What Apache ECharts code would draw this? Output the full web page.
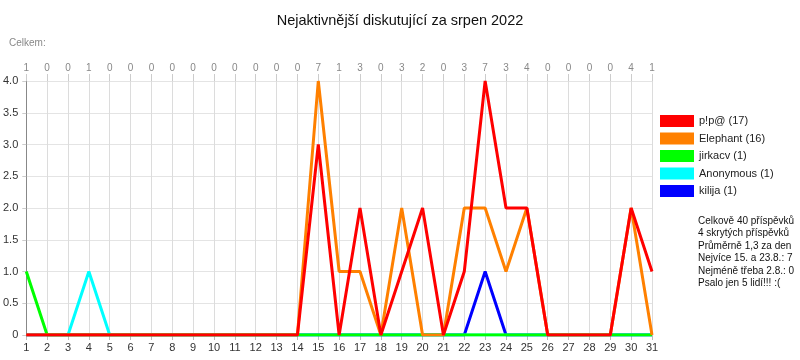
<!DOCTYPE html>
<html>
<head>
<meta charset="utf-8">
<script src="https://cdn.jsdelivr.net/npm/echarts@6/dist/echarts.min.js"></script>
<style>html,body{margin:0;padding:0;background:#fff}#c{width:800px;height:360px}</style>
</head>
<body>
<div id="c"></div>
<script>
const days = ['1','2','3','4','5','6','7','8','9','10','11','12','13','14','15','16','17','18','19','20','21','22','23','24','25','26','27','28','29','30','31'];
const totals = [1,0,0,1,0,0,0,0,0,0,0,0,0,0,7,1,3,0,3,2,0,3,7,3,4,0,0,0,0,4,1];
const names = ['p!p@ (17)','Elephant (16)','jirkacv (1)','Anonymous (1)','kilija (1)'];
const colors = ['#ff0000','#ff8000','#00ff00','#00ffff','#0000ff'];
const plp = [0,0,0,0,0,0,0,0,0,0,0,0,0,0,3,0,2,0,1,2,0,1,4,2,2,0,0,0,0,2,1];
const elephant = [0,0,0,0,0,0,0,0,0,0,0,0,0,0,4,1,1,0,2,0,0,2,2,1,2,0,0,0,0,2,0];
const jirkacv = [1,0,0,0,0,0,0,0,0,0,0,0,0,0,0,0,0,0,0,0,0,0,0,0,0,0,0,0,0,0,0];
const anonymous = [0,0,0,1,0,0,0,0,0,0,0,0,0,0,0,0,0,0,0,0,0,0,0,0,0,0,0,0,0,0,0];
const kilija = [0,0,0,0,0,0,0,0,0,0,0,0,0,0,0,0,0,0,0,0,0,0,1,0,0,0,0,0,0,0,0];
const seriesData = [plp, elephant, jirkacv, anonymous, kilija];
const statsLines = ['Celkově 40 příspěvků','4 skrytých příspěvků','Průměrně 1,3 za den','Nejvíce 15. a 23.8.: 7','Nejméně třeba 2.8.: 0','Psalo jen 5 lidí!!! :('];

const font = 'Liberation Sans, Arial, sans-serif';
const chart = echarts.init(document.getElementById('c'), null, {renderer:'canvas'});
const series = [];
for (let i = seriesData.length - 1; i >= 0; i--) {
  series.push({
    name: names[i], type: 'line', data: seriesData[i], xAxisIndex: 0, yAxisIndex: 0,
    symbol: 'none', lineStyle: {width: 3, color: colors[i]}, itemStyle: {color: colors[i]},
    emphasis: {disabled: true}
  });
}
chart.setOption({
  animation: false,
  textStyle: {fontFamily: font},
  title: {text: 'Nejaktivnější diskutující za srpen 2022', left: 'center', top: 8,
    textStyle: {fontSize: 14.5, fontWeight: 'normal', color: '#111', fontFamily: font}},
  grid: {left: 26, right: 148, top: 81, bottom: 25},
  legend: {
    data: names, orient: 'vertical', left: 660, top: 115, padding: 0, itemWidth: 34, itemHeight: 12,
    itemGap: 5.5, icon: 'rect', selectedMode: false,
    textStyle: {fontSize: 11, color: '#222', fontFamily: font}
  },
  xAxis: [{
    type: 'category', data: days, boundaryGap: false, position: 'bottom',
    axisLine: {show: true, lineStyle: {color: '#999'}},
    axisTick: {show: true, length: 5, lineStyle: {color: '#bbb'}},
    axisLabel: {fontSize: 11, color: '#333', margin: 7, interval: 0},
    splitLine: {show: true, lineStyle: {color: '#dcdcdc'}}
  }, {
    type: 'category', data: days, boundaryGap: false, position: 'top',
    axisLine: {show: false},
    axisTick: {show: true, length: 7, lineStyle: {color: '#ccc'}},
    axisLabel: {fontSize: 10, color: '#888', margin: 8, interval: 0,
      formatter: (v, i) => String(totals[i])},
    splitLine: {show: false}
  }],
  yAxis: {
    type: 'value', min: 0, max: 4, interval: 0.5,
    axisLine: {show: true, lineStyle: {color: '#888'}},
    axisTick: {show: true, length: 4, lineStyle: {color: '#ccc'}},
    axisLabel: {fontSize: 11, color: '#333', margin: 8,
      formatter: v => v === 0 ? '0' : v.toFixed(1)},
    splitLine: {show: true, lineStyle: {color: '#e4e4e4'}}
  },
  graphic: [{
    type: 'text', left: 9, top: 38,
    style: {text: 'Celkem:', fontSize: 10, fill: '#888', fontFamily: font}
  }, {
    type: 'text', left: 698, top: 215,
    style: {text: statsLines.join('\n'), fontSize: 10, lineHeight: 12.4, fill: '#111', fontFamily: font}
  }],
  series: series
});
</script>
</body>
</html>
